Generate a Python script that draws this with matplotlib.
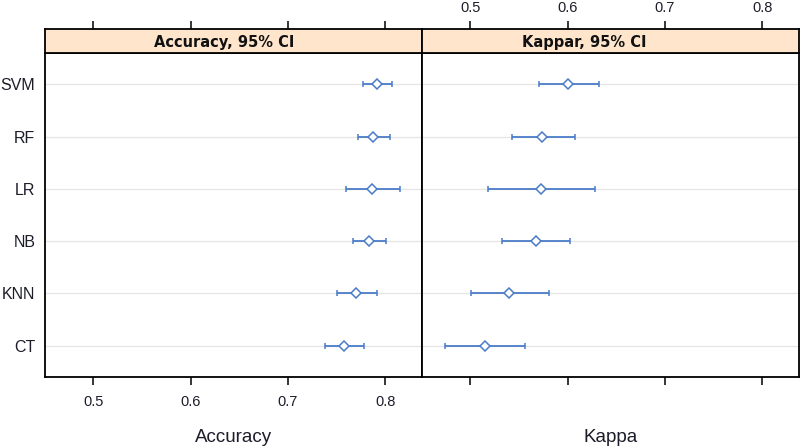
import numpy as np
import matplotlib
matplotlib.use("Agg")
import matplotlib.pyplot as plt

plt.rcParams['font.family'] = ['Liberation Sans', 'DejaVu Sans']

models = ["CT", "KNN", "NB", "LR", "RF", "SVM"]

acc_mid = [0.7576, 0.7702, 0.7829, 0.7863, 0.7877, 0.7915]
acc_lo = [0.7380, 0.7504, 0.7668, 0.7592, 0.7723, 0.7771]
acc_hi = [0.7781, 0.7911, 0.8010, 0.8147, 0.8048, 0.8072]

kap_mid = [0.5150, 0.5397, 0.5675, 0.5730, 0.5740, 0.6003]
kap_lo = [0.4739, 0.5003, 0.5329, 0.5178, 0.5432, 0.5705]
kap_hi = [0.5561, 0.5812, 0.6024, 0.6285, 0.6072, 0.6327]

ticks = [0.5, 0.6, 0.7, 0.8]
strip_titles = ["Accuracy, 95% CI", "Kappar, 95% CI"]
xlabels = ["Accuracy", "Kappa"]

blue = "#4a7cc9"
strip_col = "#ffe5cc"
text_col = "#1c1c2a"

W, H = 800, 448
fig = plt.figure(figsize=(W / 100, H / 100), dpi=100)

def fx(px):
    return px / W

def fy(py):
    return 1 - py / H

panel_bot, panel_top, strip_top = 377, 53, 29
edges = [(45, 422), (422, 799)]
title_x = [0.475, 0.43]   # strip titles sit a bit left of centre in the original
xlim = (0.4505, 0.8375)
ypos = np.arange(1, len(models) + 1)

data = [(acc_mid, acc_lo, acc_hi), (kap_mid, kap_lo, kap_hi)]

for i, ((x0, x1), (mid, lo, hi)) in enumerate(zip(edges, data)):
    ax = fig.add_axes([fx(x0), fy(panel_bot), fx(x1 - x0), fy(panel_top) - fy(panel_bot)])
    for y in ypos:
        ax.axhline(y, color="#e6e6e6", lw=1.0, zorder=0)
    mid = np.array(mid)
    err = [mid - np.array(lo), np.array(hi) - mid]
    ax.errorbar(mid, ypos, xerr=err, fmt="D", color=blue, mfc="white",
                mec=blue, ms=5.5, mew=1.1, elinewidth=1.3, capsize=2.5,
                capthick=1.3, zorder=3)
    ax.set_xlim(*xlim)
    ax.set_ylim(0.4, len(models) + 0.6)
    ax.set_xticks(ticks)
    ax.tick_params(axis="x", direction="out", length=6, width=1.1,
                   labelsize=10.5, pad=7, colors="black", labelcolor=text_col)
    if i == 0:
        ax.set_yticks(ypos)
        ax.set_yticklabels(models)
        ax.tick_params(axis="y", length=0, pad=7, labelsize=11.5, labelcolor=text_col)
        ax.set_xticklabels(["%.1f" % t for t in ticks])
    else:
        ax.set_yticks([])
        ax.set_xticklabels([])
    for s in ax.spines.values():
        s.set_linewidth(1.3)

    # strip header with top ticks
    sax = fig.add_axes([fx(x0), fy(panel_top), fx(x1 - x0), fy(strip_top) - fy(panel_top)])
    sax.set_facecolor(strip_col)
    sax.set_xlim(*xlim)
    sax.set_yticks([])
    sax.set_xticks(ticks)
    sax.xaxis.tick_top()
    sax.tick_params(axis="x", direction="out", length=6, width=1.1,
                    labelsize=10.5, pad=4, labelcolor=text_col)
    if i == 1:
        sax.set_xticklabels(["%.1f" % t for t in ticks])
    else:
        sax.set_xticklabels([])
    for s in sax.spines.values():
        s.set_linewidth(1.3)
    sax.text(title_x[i], 0.45, strip_titles[i], transform=sax.transAxes, ha="center",
             va="center", fontsize=10.5, fontweight="bold", family="DejaVu Sans",
             color="#111111")

    fig.text(fx((x0 + x1) / 2), fy(437), xlabels[i], ha="center", va="center",
             fontsize=13.5, color=text_col)

fig.savefig("out.png", dpi=100)
